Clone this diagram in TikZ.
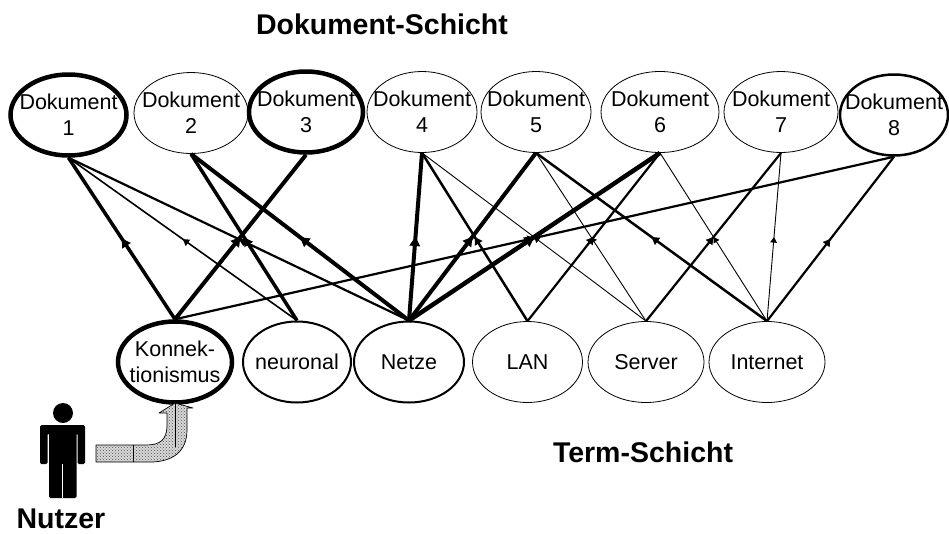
\documentclass[tikz,border=0pt]{standalone}
\usepackage{fontspec}
\setmainfont{Liberation Sans}
\usetikzlibrary{shapes.geometric,arrows.meta,decorations.markings,patterns}
\tikzset{
  x=1pt,y=-1pt,
  lab/.style={font=\fontsize{21.5}{26}\selectfont,align=center,inner sep=0pt},
  blob/.style={draw,ellipse,inner sep=0pt,fill=white,minimum width=#1*2pt},
  head/.style={font=\fontsize{28.5}{32}\bfseries\selectfont,inner sep=0pt},
  link/.style={draw,line width=#1,postaction={decorate},
    decoration={markings,mark=at position 0.5 with {\arrow{Triangle[length=#1*1.2+4.5pt,width=#1*1.2+5.5pt]}}}},
}
\begin{document}
\begin{tikzpicture}
\useasboundingbox (0,0) rectangle (949,533);
% documents
\foreach \n/\cx/\cy/\rx/\w/\tt in {d1/68.5/115/58/4.5pt/1,d2/191/113/57/0.8pt/2,d3/306/112/57/4.5pt/3,d4/422/112/55/0.8pt/4,d5/536/112/55/0.8pt/5,d6/660/112/59/0.8pt/6,d7/781/112/57/0.8pt/7,d8/894/115/54/2.5pt/8}
  \node[blob=\rx,minimum height=81pt,line width=\w,label={[lab]center:Dokument\\\tt}] (\n) at (\cx,\cy) {};
% terms
\node[blob=57,minimum height=81pt,line width=4.5pt,label={[lab]center:Konnek-\\tionismus}] (k) at (175,362) {};
\node[blob=54,minimum height=81pt,line width=2pt,label={[lab]center:neuronal}] (n) at (297,362) {};
\node[blob=55,minimum height=81pt,line width=2pt,label={[lab]center:Netze}] (z) at (409,362) {};
\node[blob=55,minimum height=81pt,line width=0.8pt,label={[lab]center:LAN}] (l) at (527.5,362) {};
\node[blob=58,minimum height=81pt,line width=0.8pt,label={[lab]center:Server}] (s) at (646,362) {};
\node[blob=58,minimum height=81pt,line width=0.8pt,label={[lab]center:Internet}] (i) at (767,362) {};
% links
\path[link=3.5pt] (k.north) -- (d1.south);
\path[link=4pt] (k.north) -- (d3.south);
\path[link=2.2pt] (k.north) -- (d8.south);
\path[link=1.6pt] (n.north) -- (d1.south);
\path[link=3.5pt] (n.north) -- (d2.south);
\path[link=2.2pt] (z.north) -- (d1.south);
\path[link=4pt] (z.north) -- (d2.south);
\path[link=4pt] (z.north) -- (d4.south);
\path[link=4pt] (z.north) -- (d5.south);
\path[link=4.5pt] (z.north) -- (d6.south);
\path[link=2.5pt] (l.north) -- (d4.south);
\path[link=2.2pt] (l.north) -- (d6.south);
\path[link=0.9pt] (s.north) -- (d4.south);
\path[link=0.9pt] (s.north) -- (d5.south);
\path[link=2.2pt] (s.north) -- (d7.south);
\path[link=2.5pt] (i.north) -- (d5.south);
\path[link=0.9pt] (i.north) -- (d6.south);
\path[link=0.9pt] (i.north) -- (d7.south);
\path[link=2.2pt] (i.north) -- (d8.south);
% person
\fill (63,413) circle (10);
\fill[rounded corners=1.5pt] (40,425) -- (85,425) -- (85,464) -- (77.5,464) -- (77.5,433) -- (76.5,433) -- (76.5,498) -- (49,498) -- (49,433) -- (47.5,433) -- (47.5,464) -- (40,464) -- cycle;
\draw[white,line width=1pt] (62.7,464) -- (62.7,498);
% arrow from person to term
\path[fill=black!15] (96,445) -- (146,445) .. controls (160,445) and (167,440) .. (167,425) -- (167,413) -- (159,413) -- (175,403) -- (193,408) -- (187,408) -- (187,430) .. controls (187,452) and (172,462) .. (150,462) -- (96,462) -- cycle;
\path[pattern=crosshatch dots,pattern color=black!70] (96,445) -- (146,445) .. controls (160,445) and (167,440) .. (167,425) -- (167,413) -- (159,413) -- (175,403) -- (193,408) -- (187,408) -- (187,430) .. controls (187,452) and (172,462) .. (150,462) -- (96,462) -- cycle;
\draw[line width=0.7pt,line join=round] (96,445) -- (146,445) .. controls (160,445) and (167,440) .. (167,425) -- (167,413) -- (159,413) -- (175,403) -- (193,408) -- (187,408) -- (187,430) .. controls (187,452) and (172,462) .. (150,462) -- (96,462) -- cycle;
\draw[line width=0.7pt] (133.5,445) -- (133.5,462);
\draw[line width=0.7pt] (175,403) -- (175,447);
% captions
\node[head] (t1) at (382,24) {Dokument-Schicht};
\node[head] (t2) at (643,452) {Term-Schicht};
\node[head] (t3) at (61,519) {Nutzer};
\end{tikzpicture}
\end{document}
